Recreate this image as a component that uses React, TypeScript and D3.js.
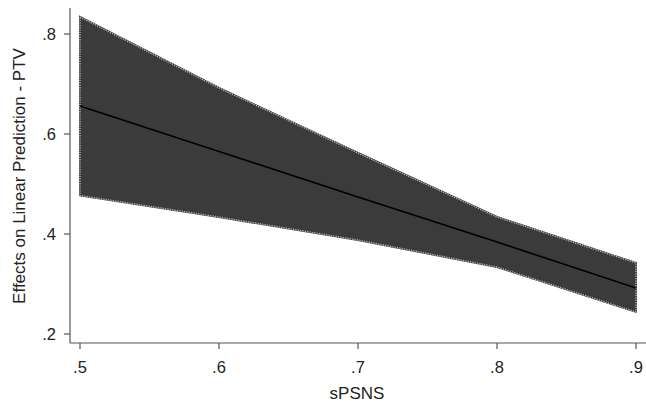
import React from "react";
import * as d3 from "d3";

const xs = [0.5, 0.6, 0.7, 0.8, 0.9];
const fit = [0.656, 0.565, 0.474, 0.384, 0.292];
const upper = [0.834, 0.692, 0.562, 0.434, 0.342];
const lower = [0.477, 0.434, 0.388, 0.334, 0.244];
const xTicks = [0.5, 0.6, 0.7, 0.8, 0.9];
const yTicks = [0.2, 0.4, 0.6, 0.8];
const fmt = (v: number) => "." + Math.round(v * 10);

export default function App() {
  const W = 646, H = 404;
  const x = d3.scaleLinear().domain([0.5, 0.9]).range([80, 636]);
  const y = d3.scaleLinear().domain([0.2, 0.8]).range([334, 34]);
  const axisX = 70, axisY = 343, axisTop = 8;
  const rows = xs.map((v, i) => ({ x: v, f: fit[i], u: upper[i], l: lower[i] }));
  const area = d3.area<any>().x(d => x(d.x)).y0(d => y(d.l)).y1(d => y(d.u));
  const line = d3.line<any>().x(d => x(d.x)).y(d => y(d.f));
  const bandPath = area(rows) || "";
  const font = "'Liberation Sans', Arial, sans-serif";
  return (
    <svg width={W} height={H} style={{ position: "absolute", left: 0, top: 0, background: "#fff" }} fontFamily={font}>
      <rect x={0} y={0} width={W} height={H} fill="#fff" />
      <path d={bandPath} fill="#3b3b3b" stroke="#3b3b3b" strokeWidth={2} />
      <path d={bandPath} fill="none" stroke="#b8b8b8" strokeWidth={1.4} strokeDasharray="1.2 1.2" />
      <path d={line(rows) || ""} fill="none" stroke="#000" strokeWidth={1.6} />
      <line x1={axisX} x2={axisX} y1={axisTop} y2={axisY} stroke="#555" strokeWidth={1.2} />
      <line x1={axisX} x2={W} y1={axisY} y2={axisY} stroke="#555" strokeWidth={1.2} />
      {yTicks.map(t => (
        <g key={"y" + t}>
          <line x1={axisX - 6} x2={axisX} y1={y(t)} y2={y(t)} stroke="#555" strokeWidth={1.2} />
          <text x={56} y={y(t)} dy="0.35em" textAnchor="end" fontSize={16.5} fill="#222">{fmt(t)}</text>
        </g>
      ))}
      {xTicks.map(t => (
        <g key={"x" + t}>
          <line x1={x(t)} x2={x(t)} y1={axisY} y2={axisY + 6} stroke="#555" strokeWidth={1.2} />
          <text x={x(t)} y={373} textAnchor="middle" fontSize={16.5} fill="#222">{fmt(t)}</text>
        </g>
      ))}
      <text x={357} y={399} textAnchor="middle" fontSize={17} fill="#222">sPSNS</text>
      <text transform="translate(25,176) rotate(-90)" textAnchor="middle" fontSize={17} fill="#222">Effects on Linear Prediction - PTV</text>
    </svg>
  );
}
